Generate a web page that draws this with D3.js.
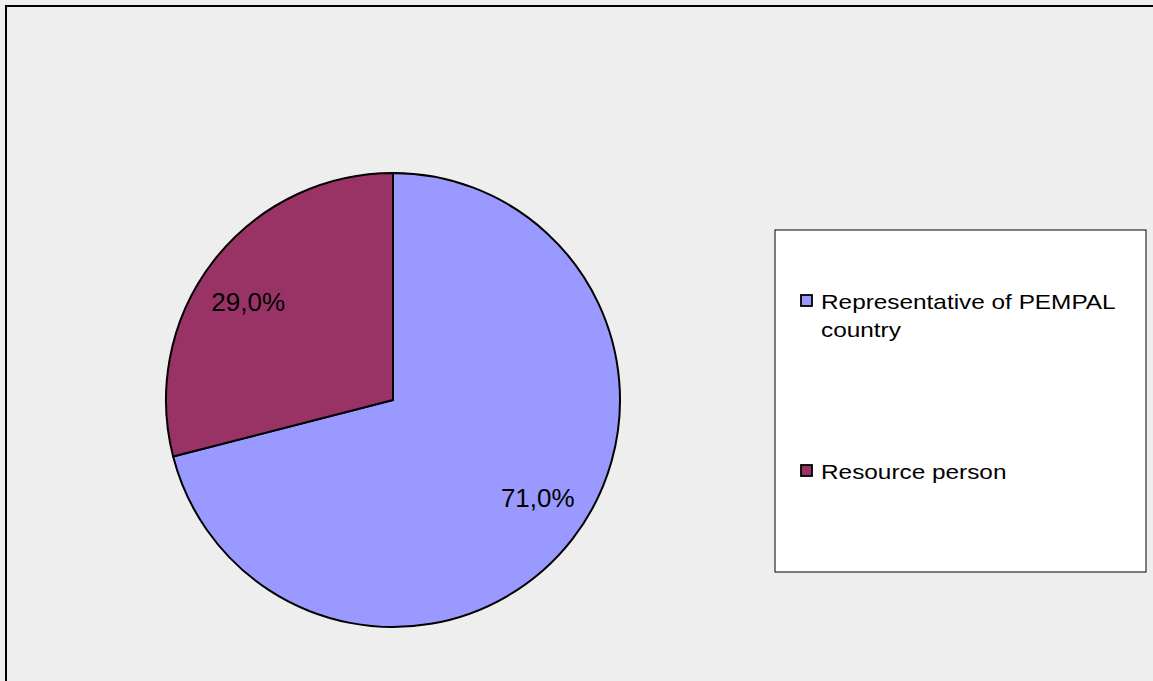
<!DOCTYPE html>
<html><head><meta charset="utf-8">
<script src="https://cdn.jsdelivr.net/npm/d3@7"></script>
<style>html,body{margin:0;padding:0;background:#eeeeee;overflow:hidden}</style>
</head><body>
<svg id="c" width="1153" height="681"></svg>
<script>
const categories = ["Representative of PEMPAL country", "Resource person"];
const legendLines = [["Representative of PEMPAL", "country"], ["Resource person"]];
const values = [71.0, 29.0];
const labels = ["71,0%", "29,0%"];
const colors = ["#9999ff", "#993366"];

const svg = d3.select("#c");
svg.append("rect").attr("x", 6).attr("y", 6).attr("width", 1160).attr("height", 700)
  .attr("fill", "#eeeeee").attr("stroke", "#000").attr("stroke-width", 2);

const cx = 393, cy = 400, r = 227;
const pie = d3.pie().sort(null).value(d => d)(values);
const arc = d3.arc().innerRadius(0).outerRadius(r);
const g = svg.append("g").attr("transform", `translate(${cx},${cy})`);
g.selectAll("path").data(pie).join("path")
  .attr("d", arc).attr("fill", (d, i) => colors[i])
  .attr("stroke", "#000").attr("stroke-width", 2).attr("stroke-linejoin", "round");

const lr = r * 0.77, shift = -0.065;
g.selectAll("text").data(pie).join("text")
  .attr("x", d => lr * Math.sin((d.startAngle + d.endAngle) / 2 + shift))
  .attr("y", d => -lr * Math.cos((d.startAngle + d.endAngle) / 2 + shift))
  .attr("text-anchor", "middle").attr("dy", "0.36em")
  .attr("font-family", "Liberation Sans, Arial, sans-serif").attr("font-size", 26)
  .attr("fill", "#000").text((d, i) => labels[i]);

// legend
svg.append("rect").attr("x", 775).attr("y", 230).attr("width", 371).attr("height", 342)
  .attr("fill", "#fff").attr("stroke", "#000").attr("stroke-width", 1);
const legY = [309, 479];
categories.forEach((c, i) => {
  svg.append("rect").attr("x", 801).attr("y", legY[i] - 14).attr("width", 11).attr("height", 11)
    .attr("fill", colors[i]).attr("stroke", "#000").attr("stroke-width", 1.8);
  legendLines[i].forEach((ln, j) => {
    svg.append("g").attr("transform", `translate(821,${legY[i] + j * 28}) scale(1.16,1)`)
      .append("text").attr("x", 0).attr("y", 0)
      .attr("font-family", "Liberation Sans, Arial, sans-serif").attr("font-size", 21)
      .attr("fill", "#000").text(ln);
  });
});
</script>
</body></html>
